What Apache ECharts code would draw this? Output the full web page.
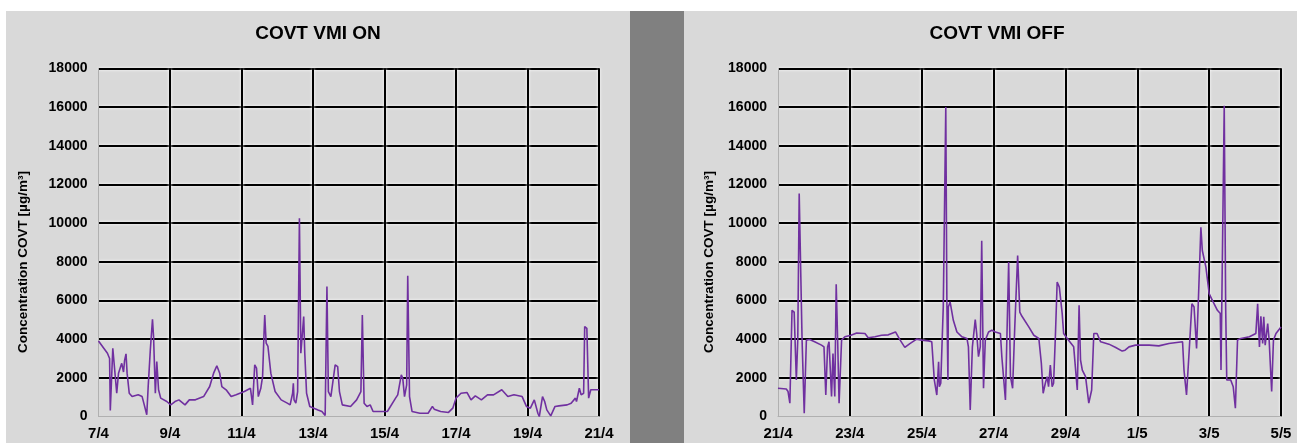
<!DOCTYPE html>
<html>
<head>
<meta charset="utf-8">
<script src="https://cdn.jsdelivr.net/npm/echarts@6/dist/echarts.min.js"></script>
<style>
html,body{margin:0;padding:0;background:#fff;}
#c{width:1297px;height:443px;}
</style>
</head>
<body>
<div id="c"></div>
<script>
// ---- data (days since the first tick) ----
const onTickLabels = ['7/4','9/4','11/4','13/4','15/4','17/4','19/4','21/4'];
const offTickLabels = ['21/4','23/4','25/4','27/4','29/4','1/5','3/5','5/5'];

const onDays = [0.00,0.25,0.31,0.33,0.40,0.45,0.51,0.56,0.62,0.65,0.70,0.73,0.77,0.80,0.86,0.94,1.11,1.22,1.28,1.35,1.39,1.45,1.51,1.54,1.59,1.63,1.68,1.74,1.91,2.02,2.14,2.25,2.42,2.54,2.71,2.94,3.11,3.22,3.31,3.39,3.45,3.57,3.71,3.85,4.08,4.25,4.31,4.37,4.42,4.47,4.54,4.59,4.63,4.65,4.69,4.74,4.82,4.94,5.11,5.28,5.36,5.43,5.45,5.47,5.52,5.57,5.62,5.66,5.69,5.74,5.77,5.82,5.91,6.14,6.25,6.34,6.39,6.43,6.50,6.62,6.69,6.74,6.82,7.05,7.22,7.34,7.38,7.43,7.51,7.60,7.68,7.85,8.08,8.31,8.37,8.42,8.47,8.51,8.56,8.62,8.65,8.70,8.77,8.99,9.22,9.34,9.39,9.57,9.79,9.91,10.00,10.14,10.31,10.42,10.54,10.71,10.88,11.05,11.28,11.45,11.62,11.85,11.97,12.08,12.19,12.29,12.33,12.42,12.48,12.54,12.65,12.77,12.88,13.11,13.22,13.34,13.37,13.45,13.50,13.57,13.60,13.66,13.71,13.77,13.85,14.00];
const onValues = [3900,3270,3000,310,3530,3450,1200,2240,2580,2750,2300,2900,3240,2240,1200,1030,1120,1030,600,90,1550,3450,5030,4130,1200,2840,1380,950,775,600,775,860,600,860,860,1030,1550,2240,2620,2240,1550,1380,1030,1120,1290,1460,600,2670,2500,1030,1460,2070,4300,5250,3790,3620,2240,1290,860,690,600,1200,1720,860,690,1290,10250,3270,3270,5170,3270,1200,520,340,260,50,6720,1290,1030,2670,2580,1290,600,520,860,1290,5250,690,520,600,260,260,260,950,1120,1030,2150,1980,1030,1640,7270,1030,260,170,170,520,380,260,210,430,950,1200,1240,860,1070,860,1120,1120,1380,1030,1120,1030,520,430,860,170,0,1030,775,340,30,520,550,600,690,950,775,1460,1120,1200,4650,4560,950,1380,1380,1380];

const offDays = [0.00,0.23,0.28,0.33,0.39,0.45,0.51,0.55,0.59,0.62,0.67,0.73,0.79,0.88,1.02,1.21,1.28,1.33,1.38,1.42,1.49,1.53,1.58,1.62,1.66,1.70,1.77,1.86,2.03,2.19,2.42,2.51,2.70,2.88,3.07,3.27,3.40,3.53,3.67,3.86,4.00,4.19,4.28,4.35,4.42,4.47,4.49,4.53,4.56,4.60,4.67,4.70,4.73,4.74,4.79,4.88,4.98,5.12,5.26,5.30,5.35,5.41,5.49,5.53,5.58,5.63,5.67,5.72,5.77,5.86,5.95,6.05,6.19,6.23,6.33,6.42,6.47,6.53,6.59,6.62,6.67,6.73,6.79,6.98,7.12,7.26,7.33,7.38,7.44,7.49,7.53,7.58,7.63,7.67,7.72,7.77,7.83,7.91,7.95,8.05,8.23,8.33,8.38,8.42,8.47,8.56,8.65,8.73,8.79,8.88,8.98,9.21,9.40,9.58,9.66,9.77,9.95,10.14,10.33,10.60,10.88,11.26,11.30,11.37,11.44,11.52,11.58,11.65,11.70,11.77,11.81,11.91,12.00,12.09,12.23,12.31,12.33,12.42,12.46,12.49,12.60,12.67,12.73,12.79,12.88,13.12,13.30,13.35,13.40,13.44,13.49,13.52,13.56,13.60,13.63,13.67,13.74,13.79,13.86,14.00];
const offValues = [1460,1420,1290,690,5490,5400,1890,3950,11530,11490,3950,170,3950,3980,3860,3690,3600,1110,3600,3860,1030,3260,1030,6830,3950,690,3950,4120,4200,4320,4290,4070,4120,4200,4220,4370,3950,3570,3770,4000,3950,3910,3860,1890,1110,2830,1540,1720,3430,5660,16000,6000,1890,5660,5920,4970,4370,4120,4030,3600,340,3600,5010,4290,3090,3600,9090,1460,3950,4370,4460,4370,4290,3090,860,7980,2060,1460,4630,4630,8320,5400,5180,4630,4200,4030,2740,1200,1720,2060,1540,2660,1540,1720,4120,6950,6690,5320,4290,4030,3600,1370,5750,2920,2400,2060,690,1370,4290,4290,3860,3740,3570,3380,3430,3600,3690,3690,3690,3650,3770,3860,2400,1110,3260,5830,5660,3520,6000,9780,8580,7720,6350,6000,5490,5320,2400,16070,5660,1890,1890,1540,430,3950,4030,4120,4290,5830,3600,5180,3770,5150,3690,3600,4800,3950,1290,3950,4290,4630];

function zip(a, b) { return a.map((d, i) => [d, b[i]]); }

const FONT = '"Liberation Sans", Arial, sans-serif';
const PURPLE = '#7030a0';
const GRIDLINE = { color: '#000', width: 2, shadowColor: 'rgba(255,255,255,1)', shadowBlur: 3 };

function xAxisFor(idx, labels) {
  return {
    type: 'value', gridIndex: idx, min: 0, max: 14, interval: 2,
    axisLine: { show: true, onZero: false, lineStyle: { color: '#b0b0b0', width: 1 } },
    axisTick: { show: false },
    axisLabel: { formatter: v => labels[Math.round(v / 2)], color: '#000', fontWeight: 'bold', fontSize: 15, fontFamily: FONT, margin: 10 },
    splitLine: { show: true, showMinLine: false, lineStyle: GRIDLINE }
  };
}
function yAxisFor(idx) {
  return {
    type: 'value', gridIndex: idx, min: 0, max: 18000, interval: 2000,
    axisLine: { show: true, lineStyle: { color: '#b0b0b0', width: 1 } },
    axisTick: { show: false },
    axisLabel: { formatter: v => String(v), color: '#000', fontWeight: 'bold', fontSize: 14, fontFamily: FONT, margin: 11 },
    splitLine: { show: true, showMinLine: false, lineStyle: GRIDLINE }
  };
}

const TITLE_FONT = 'bold 19px "Liberation Sans", Arial, sans-serif';
const NAME_FONT = 'bold 13.5px "Liberation Sans", Arial, sans-serif';

const chart = echarts.init(document.getElementById('c'), null, { renderer: 'canvas' });
chart.setOption({
  backgroundColor: '#ffffff',
  animation: false,
  graphic: [
    { type: 'rect', z: -10, shape: { x: 6, y: 11, width: 624, height: 432 }, style: { fill: '#d9d9d9' } },
    { type: 'rect', z: -10, shape: { x: 630, y: 11, width: 54, height: 432 }, style: { fill: '#808080' } },
    { type: 'rect', z: -10, shape: { x: 684, y: 11, width: 613, height: 432 }, style: { fill: '#d9d9d9' } },
    { type: 'text', x: 318, y: 34, style: { text: 'COVT VMI ON', fill: '#000', font: TITLE_FONT, textAlign: 'center', textVerticalAlign: 'middle' } },
    { type: 'text', x: 997, y: 34, style: { text: 'COVT VMI OFF', fill: '#000', font: TITLE_FONT, textAlign: 'center', textVerticalAlign: 'middle' } },
    { type: 'text', x: 23, y: 262, rotation: Math.PI / 2, style: { text: 'Concentration COVT [µg/m³]', fill: '#000', font: NAME_FONT, textAlign: 'center', textVerticalAlign: 'middle' } },
    { type: 'text', x: 709, y: 262, rotation: Math.PI / 2, style: { text: 'Concentration COVT [µg/m³]', fill: '#000', font: NAME_FONT, textAlign: 'center', textVerticalAlign: 'middle' } }
  ],
  grid: [
    { left: 98.5, top: 68.3, width: 500.5, height: 348.2, show: false },
    { left: 778, top: 68.3, width: 503, height: 348.2, show: false }
  ],
  xAxis: [xAxisFor(0, onTickLabels), xAxisFor(1, offTickLabels)],
  yAxis: [yAxisFor(0), yAxisFor(1)],
  series: [
    { type: 'line', xAxisIndex: 0, yAxisIndex: 0, data: zip(onDays, onValues), showSymbol: false, lineStyle: { color: PURPLE, width: 1.6 }, itemStyle: { color: PURPLE } },
    { type: 'line', xAxisIndex: 1, yAxisIndex: 1, data: zip(offDays, offValues), showSymbol: false, lineStyle: { color: PURPLE, width: 1.6 }, itemStyle: { color: PURPLE } }
  ]
});
</script>
</body>
</html>
